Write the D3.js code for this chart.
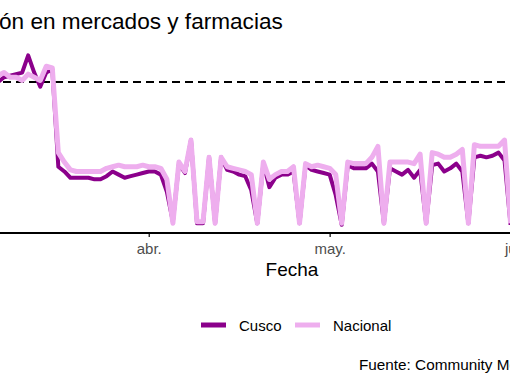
<!DOCTYPE html>
<html>
<head>
<meta charset="utf-8">
<script src="https://cdn.jsdelivr.net/npm/d3@7"></script>
<style>
  body { margin: 0; background: #fff; }
  text { font-family: "Liberation Sans", Arial, sans-serif; }
</style>
</head>
<body>
<div id="main"></div>
<script>

// data (daily, first day = 2020-03-06), % change vs baseline
var start_date = "2020-03-06";
var cusco = [-1, 0, 3, 4, 5, 6, 17, 6, -3, 6, 8,
    -54, -57, -61, -61, -61, -61, -62, -62, -60, -57, -59, -61, -60, -59, -58,
    -57, -57, -59, -70,
    -89, -52, -58, -37, -90, -90, -48,
    -90, -48, -56, -57, -59, -60, -69,
    -90, -52, -67, -61, -59, -59, -57,
    -90, -53, -56, -57, -58, -59, -72,
    -91, -53, -55, -55, -55, -52, -57,
    -90, -55, -57, -59, -56, -61, -56,
    -90, -53, -52, -57, -55, -52, -57,
    -90, -48, -47, -48, -47, -45, -50,
    -91];
var nacional = [5, 4, 6, 3, 3, 1, 5, 3, 1, 10, 9,
    -45, -51, -56, -57, -57, -57, -57, -57, -55, -54, -53, -54, -54, -54, -53,
    -54, -54, -55, -62,
    -90, -51, -57, -37, -89, -89, -48,
    -90, -48, -54, -55, -56, -57, -59,
    -90, -51, -62, -59, -57, -57, -54,
    -90, -52, -54, -53, -54, -55, -59,
    -90, -51, -52, -52, -52, -48, -41,
    -90, -51, -51, -51, -51, -52, -46,
    -90, -45, -46, -48, -48, -46, -43,
    -90, -40, -41, -41, -41, -41, -37,
    -90];
var tick_dates = ["2020-04-01", "2020-05-01", "2020-06-01"];
var tick_labels = ["abr.", "may.", "jun."];
var series_names = ["Cusco", "Nacional"];
var series_colors = ["#8B008B", "#EEAEEE"];

// dimensions
var svg_width = 510,
    svg_height = 382;

var svg = d3.select("#main").append("svg")
    .attr("width", svg_width)
    .attr("height", svg_height)
    .style("display", "block");

var parse = d3.utcParse("%Y-%m-%d");
var t0 = parse(start_date);
var dates = cusco.map(function(d, i) { return d3.utcDay.offset(t0, i); });

var series = [
    {name: series_names[0], color: series_colors[0], width: 4,
     values: cusco.map(function(v, i) { return {date: dates[i], value: v}; })},
    {name: series_names[1], color: series_colors[1], width: 5,
     values: nacional.map(function(v, i) { return {date: dates[i], value: v}; })}
];

/** scales (panel runs past the left/right edge of the picture) **/
var xScale = d3.scaleUtc()
    .domain([t0, parse("2020-06-01")])
    .range([-8, 516.6]);
var yScale = d3.scaleLinear()
    .domain([-96.2, 24.2])
    .range([233, 44]);

// title
svg.append("text")
    .attr("x", -1)
    .attr("y", 29)
    .style("font-size", "22.6px")
    .attr("fill", "#000")
    .text("ón en mercados y farmacias");

// reference line at 0
svg.append("line")
    .attr("x1", -10).attr("x2", svg_width + 10)
    .attr("y1", yScale(0)).attr("y2", yScale(0))
    .attr("stroke", "#000")
    .attr("stroke-width", 2)
    .attr("stroke-dasharray", "8,5");

/** lines **/
var line = d3.line()
    .x(function(d) { return xScale(d.date); })
    .y(function(d) { return yScale(d.value); });

svg.selectAll(".series")
    .data(series)
    .enter()
    .append("path")
    .attr("class", "series")
    .attr("fill", "none")
    .attr("stroke", function(d) { return d.color; })
    .attr("stroke-width", function(d) { return d.width; })
    .attr("stroke-linejoin", "round")
    .attr("d", function(d) { return line(d.values); });

/** x axis **/
var xAxis = svg.append("g")
    .attr("id", "x-axis")
    .attr("transform", "translate(0,233)")
    .call(d3.axisBottom(xScale)
        .tickValues(tick_dates.map(parse))
        .tickFormat(function(d, i) { return tick_labels[i]; })
        .tickSize(4)
        .tickPadding(6));
xAxis.select(".domain").remove();
xAxis.selectAll(".tick line").attr("stroke", "#333").attr("stroke-width", 1.5);
xAxis.selectAll(".tick text")
    .attr("fill", "#4D4D4D")
    .style("font-size", "15px")
    .style("font-family", "'Liberation Sans', Arial, sans-serif");
xAxis.append("line")
    .attr("x1", -10).attr("x2", svg_width + 10)
    .attr("stroke", "#000")
    .attr("stroke-width", 2);

svg.append("text")
    .attr("x", 292)
    .attr("y", 276)
    .attr("text-anchor", "middle")
    .style("font-size", "19px")
    .text("Fecha");

/** legend **/
var legend = svg.append("g").attr("transform", "translate(201,325)");
var item = legend.selectAll(".item")
    .data(series)
    .enter()
    .append("g")
    .attr("class", "item")
    .attr("transform", function(d, i) { return "translate(" + (i * 94) + ",0)"; });
item.append("line")
    .attr("x1", 0).attr("x2", 25)
    .attr("stroke", function(d) { return d.color; })
    .attr("stroke-width", 5);
item.append("text")
    .attr("x", 38)
    .attr("y", 5.5)
    .style("font-size", "15px")
    .text(function(d) { return d.name; });

// caption (cut at the right edge, as in the original crop)
svg.append("text")
    .attr("x", 359)
    .attr("y", 370)
    .style("font-size", "15.3px")
    .text("Fuente: Community Mobility Reports");

</script>
</body>
</html>
